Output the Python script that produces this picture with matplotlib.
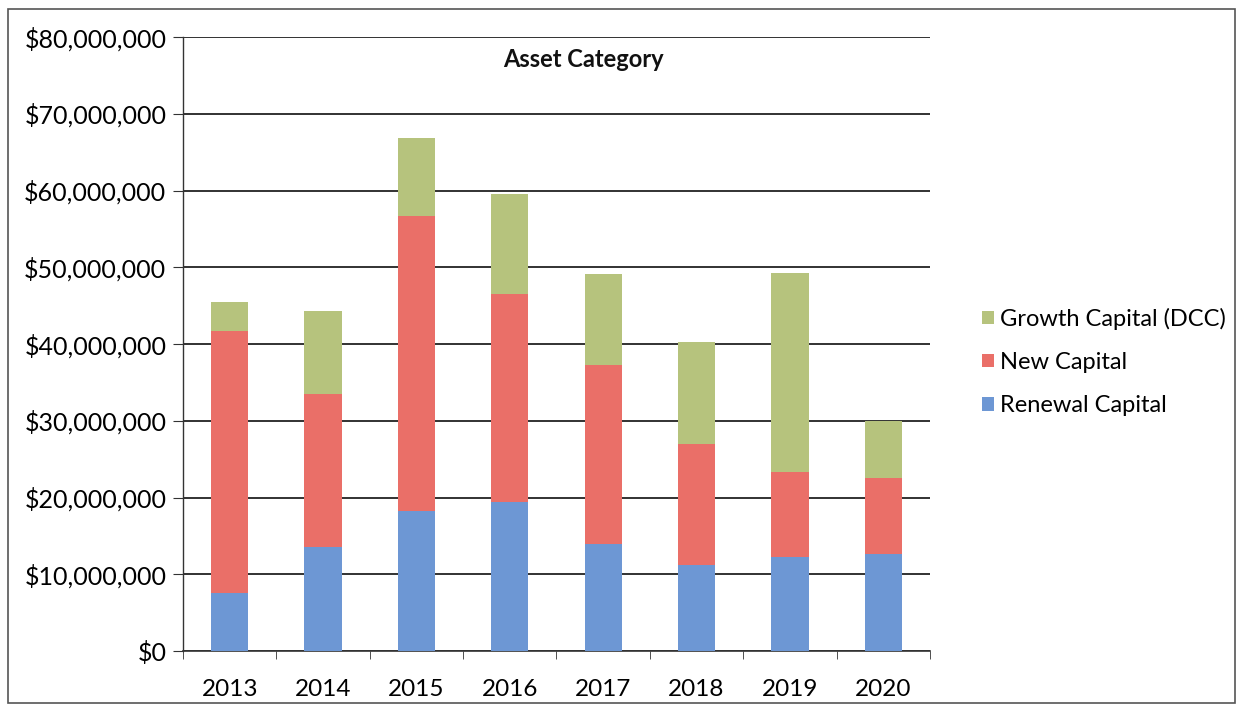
import matplotlib
matplotlib.use("Agg")
import matplotlib.pyplot as plt
from matplotlib.patches import Rectangle
from matplotlib.ticker import FuncFormatter, MultipleLocator

years = ["2013", "2014", "2015", "2016", "2017", "2018", "2019", "2020"]
renewal = [7.5e6, 13.6e6, 18.3e6, 19.4e6, 14.0e6, 11.2e6, 12.3e6, 12.7e6]
new_cap = [34.2e6, 19.9e6, 38.4e6, 27.1e6, 23.2e6, 15.8e6, 11.0e6, 9.8e6]
growth = [3.8e6, 10.8e6, 10.1e6, 13.1e6, 11.9e6, 13.2e6, 26.0e6, 7.5e6]

c_renewal = "#6d97d4"
c_new = "#ea6f68"
c_growth = "#b6c37d"

plt.rcParams["font.family"] = ["Lato", "DejaVu Sans"]

fig = plt.figure(figsize=(12.39, 7.15), dpi=100)
ax = fig.add_axes([183 / 1239, 1 - 651 / 715, (930 - 183) / 1239, (651 - 37) / 715])

x = list(range(len(years)))
w = 0.4
bottom_new = renewal
bottom_growth = [r + n for r, n in zip(renewal, new_cap)]
b1 = ax.bar(x, renewal, w, color=c_renewal, label="Renewal Capital", zorder=3)
b2 = ax.bar(x, new_cap, w, bottom=bottom_new, color=c_new, label="New Capital", zorder=3)
b3 = ax.bar(x, growth, w, bottom=bottom_growth, color=c_growth,
            label="Growth Capital (DCC)", zorder=3)

ax.set_xlim(-0.5, len(years) - 0.5)
ax.set_ylim(0, 80e6)
ax.yaxis.set_major_locator(MultipleLocator(10e6))
ax.yaxis.set_major_formatter(FuncFormatter(lambda v, p: f"${v:,.0f}"))
ax.grid(axis="y", color="#222222", linewidth=1.3, zorder=1)

ax.set_xticks(x)
ax.set_xticklabels(years)
ax.set_xticks([i - 0.5 for i in range(len(years) + 1)], minor=True)
ax.tick_params(axis="x", which="major", length=0, pad=20, labelsize=17.5)
ax.tick_params(axis="x", which="minor", length=6, direction="out", color="#333333")
ax.tick_params(axis="y", length=7, direction="out", labelsize=18, pad=5, color="#333333")

for side in ("top", "right"):
    ax.spines[side].set_visible(False)
ax.spines["left"].set_color("#333333")
ax.spines["bottom"].set_color("#333333")
ax.spines["left"].set_linewidth(1.0)
ax.spines["bottom"].set_linewidth(1.2)

fig.text(583 / 1239, 1 - 48 / 715, "Asset Category", ha="center", va="top",
         fontsize=17, fontweight="bold", color="#111111")

leg = fig.legend(handles=[b3, b2, b1], loc="center left",
                 bbox_to_anchor=(973 / 1239, 1 - 362 / 715),
                 frameon=False, fontsize=17, handlelength=0.5, handleheight=0.5,
                 handletextpad=0.25, labelspacing=0.95, borderaxespad=0)

# outer chart border
fig.patches.append(Rectangle((8 / 1239, 12 / 715), 1 - 12 / 1239, 1 - 21 / 715,
                             transform=fig.transFigure, fill=False,
                             edgecolor="#555555", linewidth=1.2))

fig.savefig("out.png", dpi=100)
